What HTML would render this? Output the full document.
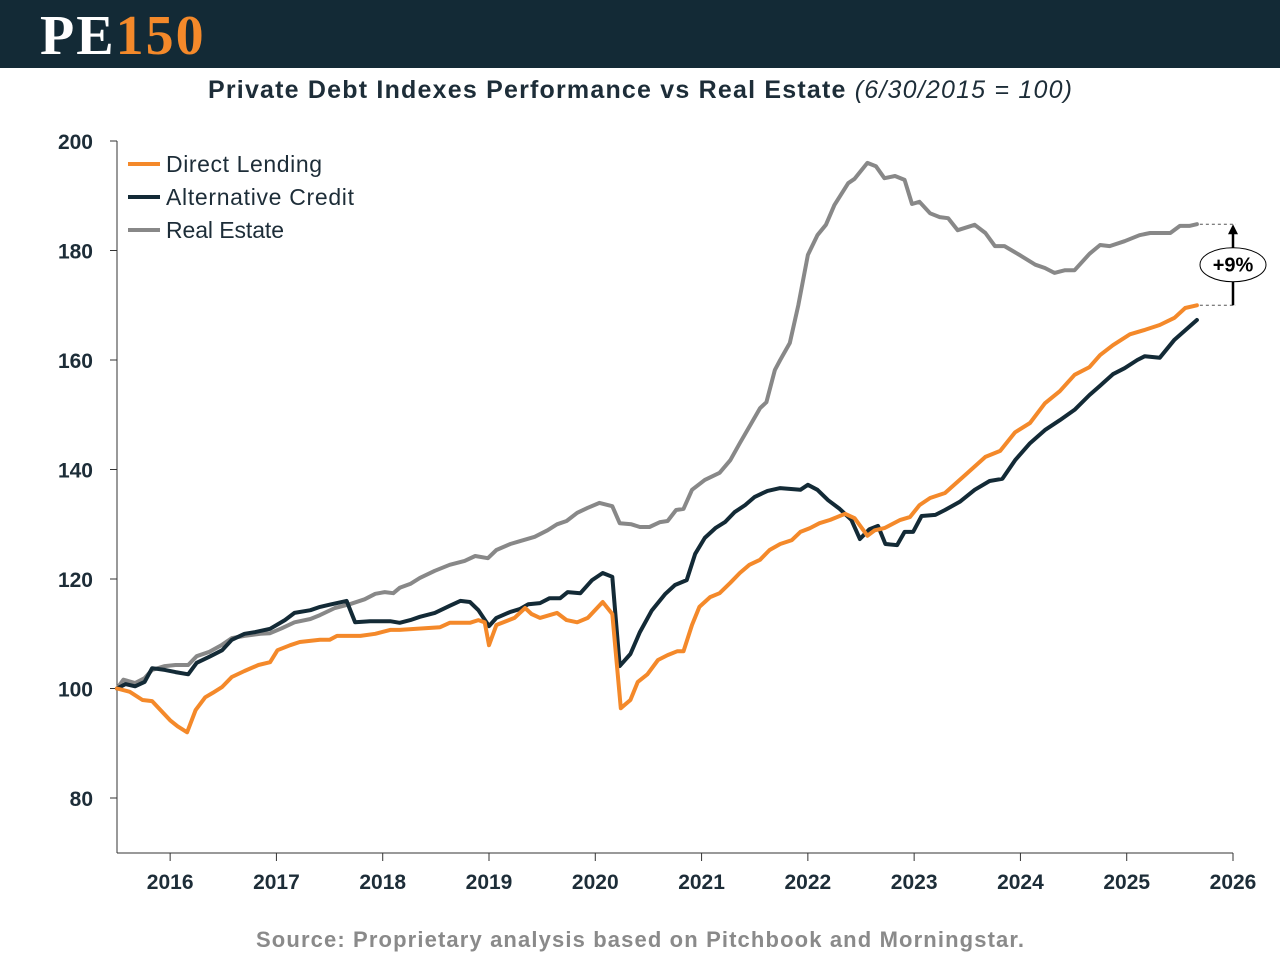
<!DOCTYPE html>
<html><head><meta charset="utf-8"><style>
body{margin:0;width:1280px;height:960px;background:#fff;font-family:"Liberation Sans",sans-serif;overflow:hidden}
#hdr{position:absolute;left:0;top:0;width:1280px;height:68px;background:#132a36}
#logo{position:absolute;left:40px;top:4px;font-family:"Liberation Serif",serif;font-weight:bold;font-size:56px;letter-spacing:2px;color:#fff}
#logo span{color:#f4892a}
</style></head><body>
<div id="hdr"><div id="logo">PE<span>150</span></div></div>
<svg id="chart" width="1280" height="960" style="position:absolute;left:0;top:0">
<text x="208" y="98" textLength="864" lengthAdjust="spacing" font-size="25" font-weight="bold" fill="#1d2d38">Private Debt Indexes Performance vs Real Estate <tspan font-style="italic" font-weight="normal">(6/30/2015 = 100)</tspan></text>
<text x="256" y="947" textLength="768" lengthAdjust="spacing" font-size="22" font-weight="bold" fill="#8a8a8a">Source: Proprietary analysis based on Pitchbook and Morningstar.</text>
<g id="axes"></g><g id="lines"></g>
<g>
<line x1="128" y1="164" x2="160" y2="164" stroke="#f4892a" stroke-width="4"/><text x="166" y="172" textLength="156" lengthAdjust="spacing" font-size="23" fill="#1d2d38">Direct Lending</text>
<line x1="128" y1="197" x2="160" y2="197" stroke="#132a36" stroke-width="4"/><text x="166" y="205" textLength="188" lengthAdjust="spacing" font-size="23" fill="#1d2d38">Alternative Credit</text>
<line x1="128" y1="230" x2="160" y2="230" stroke="#888" stroke-width="4"/><text x="166" y="238" textLength="118" lengthAdjust="spacing" font-size="23" fill="#1d2d38">Real Estate</text>
</g>
<g id="annot"></g>
</svg>
<script>
const yTicks=[80,100,120,140,160,180,200];
const xTicks=[2016,2017,2018,2019,2020,2021,2022,2023,2024,2025,2026];
const dlDates=[2015.50,2015.62,2015.74,2015.83,2016.00,2016.07,2016.16,2016.24,2016.33,2016.40,2016.49,2016.58,2016.70,2016.83,2016.94,2017.01,2017.13,2017.22,2017.41,2017.50,2017.57,2017.79,2017.93,2018.07,2018.16,2018.54,2018.63,2018.82,2018.90,2018.96,2019.00,2019.07,2019.24,2019.34,2019.40,2019.48,2019.64,2019.73,2019.83,2019.93,2020.07,2020.16,2020.24,2020.33,2020.40,2020.49,2020.59,2020.68,2020.77,2020.83,2020.91,2020.98,2021.08,2021.17,2021.27,2021.36,2021.45,2021.55,2021.64,2021.74,2021.85,2021.93,2022.02,2022.11,2022.21,2022.35,2022.44,2022.56,2022.63,2022.72,2022.87,2022.96,2023.05,2023.15,2023.29,2023.48,2023.67,2023.81,2023.95,2024.09,2024.23,2024.37,2024.51,2024.65,2024.75,2024.87,2025.03,2025.17,2025.31,2025.45,2025.55,2025.66];
const dlValues=[100.0,99.4,97.9,97.7,94.2,93.1,92.0,96.1,98.4,99.2,100.3,102.1,103.2,104.3,104.8,107.0,107.9,108.5,108.9,108.9,109.6,109.6,110.0,110.7,110.7,111.2,112.0,112.0,112.5,112.1,107.9,111.6,112.9,114.7,113.6,112.9,113.8,112.5,112.1,112.9,115.8,113.6,96.4,97.9,101.2,102.6,105.2,106.1,106.8,106.8,111.6,114.9,116.7,117.4,119.3,121.1,122.6,123.5,125.3,126.4,127.1,128.6,129.3,130.2,130.8,131.9,131.1,127.9,128.9,129.3,130.8,131.3,133.5,134.8,135.7,139.0,142.3,143.4,146.8,148.5,152.1,154.3,157.3,158.7,160.9,162.7,164.7,165.5,166.4,167.7,169.5,170.0];
const acDates=[2015.50,2015.58,2015.67,2015.76,2015.83,2015.95,2016.05,2016.17,2016.25,2016.37,2016.49,2016.58,2016.70,2016.80,2016.94,2017.08,2017.17,2017.32,2017.41,2017.50,2017.66,2017.74,2017.88,2018.07,2018.16,2018.26,2018.35,2018.49,2018.63,2018.73,2018.82,2018.90,2019.00,2019.07,2019.20,2019.29,2019.37,2019.48,2019.57,2019.67,2019.74,2019.86,2019.97,2020.07,2020.16,2020.23,2020.33,2020.42,2020.53,2020.66,2020.75,2020.86,2020.94,2021.03,2021.13,2021.22,2021.31,2021.41,2021.50,2021.62,2021.74,2021.93,2022.00,2022.09,2022.19,2022.30,2022.41,2022.49,2022.58,2022.66,2022.73,2022.84,2022.91,2022.99,2023.07,2023.20,2023.29,2023.43,2023.57,2023.71,2023.83,2023.95,2024.09,2024.23,2024.37,2024.51,2024.65,2024.75,2024.87,2024.98,2025.10,2025.17,2025.31,2025.45,2025.66];
const acValues=[100.0,100.8,100.4,101.2,103.7,103.4,103.0,102.6,104.7,105.8,107.0,108.9,110.0,110.3,110.9,112.5,113.8,114.3,114.9,115.3,116.0,112.1,112.3,112.3,112.0,112.5,113.1,113.8,115.1,116.0,115.8,114.3,111.4,112.9,114.0,114.5,115.4,115.6,116.5,116.5,117.6,117.4,119.8,121.1,120.4,104.1,106.3,110.3,114.2,117.3,118.9,119.8,124.6,127.5,129.3,130.4,132.2,133.5,135.0,136.1,136.6,136.3,137.2,136.3,134.4,132.8,130.8,127.3,129.1,129.7,126.4,126.2,128.6,128.6,131.5,131.7,132.6,134.1,136.3,137.9,138.3,141.7,144.8,147.2,149.0,150.9,153.6,155.3,157.4,158.5,160.0,160.7,160.4,163.7,167.3];
const reDates=[2015.50,2015.56,2015.67,2015.76,2015.83,2015.95,2016.05,2016.17,2016.25,2016.37,2016.49,2016.58,2016.70,2016.85,2016.94,2017.05,2017.17,2017.32,2017.41,2017.55,2017.69,2017.83,2017.93,2018.02,2018.10,2018.16,2018.26,2018.35,2018.49,2018.63,2018.77,2018.87,2018.99,2019.07,2019.20,2019.29,2019.43,2019.55,2019.64,2019.73,2019.83,2019.93,2020.04,2020.16,2020.23,2020.34,2020.42,2020.51,2020.61,2020.68,2020.76,2020.83,2020.91,2021.03,2021.17,2021.27,2021.36,2021.47,2021.55,2021.61,2021.69,2021.74,2021.83,2021.91,2022.00,2022.09,2022.17,2022.25,2022.38,2022.44,2022.56,2022.64,2022.72,2022.82,2022.91,2022.98,2023.05,2023.15,2023.24,2023.32,2023.41,2023.57,2023.67,2023.76,2023.85,2023.99,2024.14,2024.23,2024.32,2024.42,2024.51,2024.65,2024.75,2024.84,2024.98,2025.12,2025.22,2025.41,2025.50,2025.59,2025.66];
const reValues=[100.0,101.6,101.0,101.9,103.4,104.1,104.3,104.3,105.9,106.7,108.0,109.2,109.6,110.0,110.1,111.0,112.1,112.7,113.4,114.7,115.4,116.3,117.3,117.6,117.4,118.4,119.1,120.2,121.5,122.6,123.3,124.2,123.8,125.3,126.4,126.9,127.7,128.9,130.0,130.6,132.1,133.0,133.9,133.3,130.2,130.0,129.5,129.5,130.4,130.6,132.6,132.8,136.3,138.1,139.4,141.7,144.8,148.5,151.2,152.3,158.2,160.0,163.1,170.0,179.2,182.8,184.7,188.3,192.3,193.1,196.0,195.4,193.2,193.6,192.9,188.5,188.9,186.8,186.1,185.9,183.7,184.7,183.2,180.8,180.8,179.2,177.4,176.8,175.9,176.4,176.4,179.4,181.0,180.8,181.7,182.8,183.2,183.2,184.5,184.5,184.8];
const gapLabel="+9%";

const NS="http://www.w3.org/2000/svg";
const X=d=>117+(d-2015.5)*(1233-117)/10.5;
const Y=v=>141+(200-v)*(798-141)/120;
function mk(tag,attrs,parent){const e=document.createElementNS(NS,tag);for(const k in attrs)e.setAttribute(k,attrs[k]);parent.appendChild(e);return e;}
const ax=document.getElementById('axes');
const yl=mk('line',{x1:117,y1:141,x2:117,y2:853,stroke:'#333','stroke-width':1},ax);


const xl=mk('line',{x1:117,y1:853,x2:1233,y2:853,stroke:'#333','stroke-width':1},ax);


yTicks.forEach(v=>{
  mk('line',{x1:110,y1:Y(v),x2:117,y2:Y(v),stroke:'#333'},ax);
  const t=mk('text',{x:93,y:Y(v)+8,'text-anchor':'end','font-size':21,'font-weight':'bold',fill:'#1d2d38'},ax);
  t.textContent=v;
  
  
});
xTicks.forEach(v=>{
  mk('line',{x1:X(v),y1:853,x2:X(v),y2:861,stroke:'#333'},ax);
  const t=mk('text',{x:X(v),y:889,'text-anchor':'middle','font-size':21,'font-weight':'bold',fill:'#1d2d38'},ax);
  t.textContent=v;
  
  
});
const lg=document.getElementById('lines');
function series(d,v,col,name){
  const p=mk('polyline',{points:d.map((x,i)=>X(x).toFixed(1)+','+Y(v[i]).toFixed(1)).join(' '),fill:'none',stroke:col,'stroke-width':4,'stroke-linejoin':'round','stroke-linecap':'round'},lg);
  
  
}
series(reDates,reValues,'#888888','real-estate-line');
series(acDates,acValues,'#132a36','alternative-credit-line');
series(dlDates,dlValues,'#f4892a','direct-lending-line');
const an=document.getElementById('annot');
const reEnd=reValues[reValues.length-1], dlEnd=dlValues[dlValues.length-1];
const xe=X(reDates[reDates.length-1]);
mk('line',{x1:xe+3,y1:Y(reEnd),x2:1236,y2:Y(reEnd),stroke:'#555','stroke-dasharray':'3,3'},an);
mk('line',{x1:X(dlDates[dlDates.length-1])+3,y1:Y(dlEnd),x2:1236,y2:Y(dlEnd),stroke:'#555','stroke-dasharray':'3,3'},an);
mk('line',{x1:1233,y1:Y(dlEnd),x2:1233,y2:Y(reEnd)+8,stroke:'#000','stroke-width':2.5},an);
mk('polygon',{points:`1228,${Y(reEnd)+10} 1238,${Y(reEnd)+10} 1233,${Y(reEnd)}`,fill:'#000'},an);
const cy=(Y(reEnd)+Y(dlEnd))/2;
mk('ellipse',{cx:1233,cy:cy,rx:33,ry:17,fill:'#fff',stroke:'#000','stroke-width':1},an);
const gt=mk('text',{x:1233,y:cy+7,'text-anchor':'middle','font-size':20,'font-weight':'bold',fill:'#000'},an);
gt.textContent=gapLabel;


</script>
</body></html>
